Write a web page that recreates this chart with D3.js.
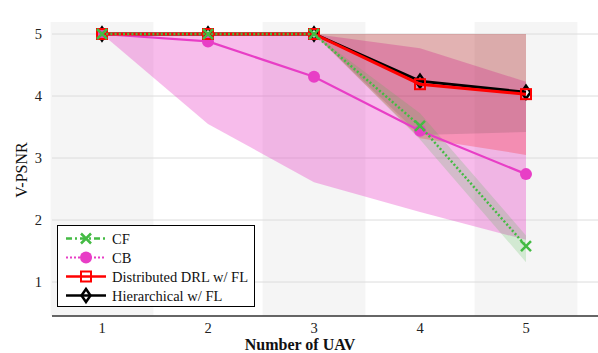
<!DOCTYPE html>
<html lang="en">
<head>
<meta charset="UTF-8">
<title>V-PSNR vs number of UAV</title>
<style>
  * { margin: 0; padding: 0; }
  body { background: #fff; }
</style>
</head>
<body>
<div id="chart"></div>
<script src="https://cdn.jsdelivr.net/npm/d3@7"></script>
<script>
// data
var uavs = [1, 2, 3, 4, 5]
var yTicks = [1, 2, 3, 4, 5]

var cfMean = [5, 5, 5, 3.52, 1.58]
var cfHi   = [5, 5, 5, 3.72, 1.75]
var cfLo   = [5, 5, 5, 3.30, 1.32]

var cbMean = [5, 4.88, 4.31, 3.44, 2.74]
var cbHi   = [5, 5, 5, 4.77, 4.23]
var cbLo   = [5, 3.55, 2.61, 2.13, 1.68]

var drlMean = [5, 5, 5, 4.19, 4.03]
var drlHi   = [5, 5, 5, 5, 5]
var drlLo   = [5, 5, 5, 3.32, 3.05]

var hierMean = [5, 5, 5, 4.24, 4.06]
var hierHi   = [5, 5, 5, 5, 5]
var hierLo   = [5, 5, 5, 3.37, 3.42]

var W = 598, H = 353
var plot = {left: 52, right: 598, top: 22, bottom: 316}

var svg = d3.select('#chart').append('svg')
  .attr('width', W).attr('height', H)
  .attr('font-family', 'Liberation Serif')

var x = d3.scaleLinear().domain([1, 5]).range([102, 526])
var y = d3.scaleLinear().domain([1, 5]).range([282, 34])

// alternating grey column bands
svg.append('g').selectAll('rect')
  .data(uavs.filter(function (d) { return d % 2 === 1 }))
  .enter().append('rect')
  .attr('x', function (d) { return x(d - 0.485) })
  .attr('width', x(1.97) - x(1))
  .attr('y', plot.top)
  .attr('height', plot.bottom - plot.top)
  .attr('fill', '#f5f5f5')

// horizontal grid
svg.append('g').selectAll('line')
  .data(yTicks).enter().append('line')
  .attr('x1', plot.left).attr('x2', plot.right)
  .attr('y1', function (d) { return y(d) }).attr('y2', function (d) { return y(d) })
  .attr('stroke', '#dcdcdc').attr('stroke-width', 1)

function band(hi, lo, color, op) {
  var area = d3.area()
    .x(function (d, i) { return x(uavs[i]) })
    .y0(function (d, i) { return y(lo[i]) })
    .y1(function (d, i) { return y(hi[i]) })
  svg.append('path').datum(hi).attr('d', area)
    .attr('fill', color).attr('fill-opacity', op).attr('stroke', 'none')
}

var pink = '#e83ec6', green = '#44bb44'

band(cbHi, cbLo, pink, 0.35)
band(drlHi, drlLo, 'red', 0.22)
band(hierHi, hierLo, '#333', 0.14)
band(cfHi, cfLo, green, 0.2)

var line = d3.line()
  .x(function (d, i) { return x(uavs[i]) })
  .y(function (d) { return y(d) })

var diamond = 'M0,-6.5L4.5,0L0,6.5L-4.5,0Z'
var cross = 'M-5,-5L5,5M-5,5L5,-5'

function marker(g, kind, color) {
  if (kind === 'diamond') {
    g.append('path').attr('d', diamond).attr('fill', 'none')
      .attr('stroke', color).attr('stroke-width', 2.5)
  } else if (kind === 'square') {
    g.append('rect').attr('x', -5).attr('y', -5).attr('width', 10).attr('height', 10)
      .attr('fill', 'none').attr('stroke', color).attr('stroke-width', 2)
  } else if (kind === 'circle') {
    g.append('circle').attr('r', 6).attr('fill', color)
  } else {
    g.append('path').attr('d', cross).attr('fill', 'none')
      .attr('stroke', color).attr('stroke-width', 2.5)
  }
}

function series(vals, color, width, dash, kind) {
  svg.append('path').datum(vals).attr('d', line)
    .attr('fill', 'none').attr('stroke', color).attr('stroke-width', width)
    .attr('stroke-dasharray', dash)
  svg.append('g').selectAll('g')
    .data(vals).enter().append('g')
    .attr('transform', function (d, i) { return 'translate(' + x(uavs[i]) + ',' + y(d) + ')' })
    .each(function () { marker(d3.select(this), kind, color) })
}

series(hierMean, 'black', 3, null, 'diamond')
series(cbMean, pink, 2.2, null, 'circle')
series(drlMean, 'red', 3, null, 'square')
series(cfMean, green, 2.5, '2,2.2', 'cross')

// axes
svg.append('line')
  .attr('x1', plot.left).attr('x2', plot.right)
  .attr('y1', plot.bottom).attr('y2', plot.bottom)
  .attr('stroke', '#333').attr('stroke-width', 1.5)

svg.append('g').selectAll('text')
  .data(uavs).enter().append('text')
  .attr('x', function (d) { return x(d) }).attr('y', 333)
  .attr('text-anchor', 'middle').attr('font-size', 14.5).attr('fill', '#222')
  .text(function (d) { return d })

svg.append('g').selectAll('text')
  .data(yTicks).enter().append('text')
  .attr('x', 42).attr('y', function (d) { return y(d) + 5 })
  .attr('text-anchor', 'end').attr('font-size', 14.5).attr('fill', '#222')
  .text(function (d) { return d })

svg.append('text')
  .attr('x', 300).attr('y', 350)
  .attr('text-anchor', 'middle').attr('font-size', 16).attr('font-weight', 'bold')
  .attr('fill', '#111')
  .text('Number of UAV')

svg.append('text')
  .attr('transform', 'translate(27,170) rotate(-90)')
  .attr('text-anchor', 'middle').attr('font-size', 16).attr('fill', '#111')
  .text('V-PSNR')

// legend
var legendItems = [
  {name: 'CF', color: green, dash: '6,3,2,3', kind: 'cross', w: 2.5},
  {name: 'CB', color: pink, dash: '2,2', kind: 'circle', w: 2},
  {name: 'Distributed DRL w/ FL', color: 'red', dash: null, kind: 'square', w: 2.5},
  {name: 'Hierarchical w/ FL', color: 'black', dash: null, kind: 'diamond', w: 2.5}
]

var lg = svg.append('g')
lg.append('rect').attr('x', 57.5).attr('y', 225.5).attr('width', 197).attr('height', 81)
  .attr('fill', 'white').attr('stroke', 'black').attr('stroke-width', 1)

var row = lg.selectAll('g.item').data(legendItems).enter().append('g')
  .attr('class', 'item')
  .attr('transform', function (d, i) { return 'translate(0,' + (238.5 + i * 19) + ')' })

row.append('line').attr('x1', 66).attr('x2', 106).attr('y1', 0).attr('y2', 0)
  .attr('stroke', function (d) { return d.color })
  .attr('stroke-width', function (d) { return d.w })
  .attr('stroke-dasharray', function (d) { return d.dash })
row.append('g').attr('transform', 'translate(86,0)')
  .each(function (d) { marker(d3.select(this), d.kind, d.color) })
row.append('text').attr('x', 112).attr('y', 5)
  .attr('font-size', 14.5).attr('fill', '#111')
  .text(function (d) { return d.name })
</script>
</body>
</html>
